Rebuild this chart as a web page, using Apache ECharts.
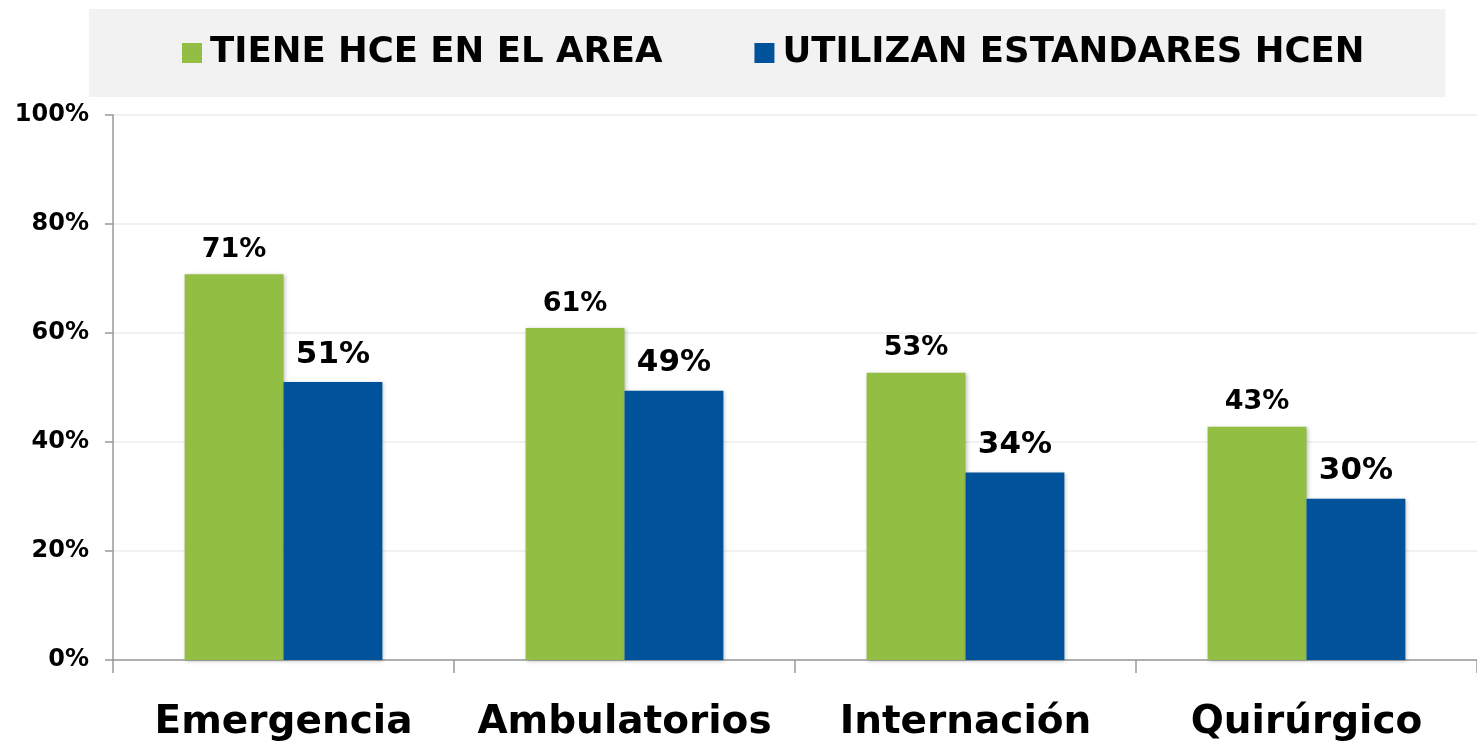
<!DOCTYPE html>
<html>
<head>
<meta charset="utf-8">
<script src="https://cdn.jsdelivr.net/npm/echarts@6/dist/echarts.min.js"></script>
<style>
  html, body { margin: 0; padding: 0; background: #fff; }
  #chart { width: 1477px; height: 742px; }
</style>
</head>
<body>
<div id="chart"></div>
<script>
const categories = ['Emergencia', 'Ambulatorios', 'Internación', 'Quirúrgico'];
const seriesNames = ['TIENE HCE EN EL AREA', 'UTILIZAN ESTANDARES HCEN'];
const tieneHce = [70.8, 60.9, 52.7, 42.8];
const utilizanHcen = [51.0, 49.4, 34.4, 29.6];
const yTicks = [0, 20, 40, 60, 80, 100];

const FONT = 'DejaVu Sans';
const chart = echarts.init(document.getElementById('chart'));

const barLabel = (size, dist) => ({
  show: true,
  position: 'top',
  distance: dist,
  fontFamily: FONT,
  fontSize: size,
  fontWeight: 'bold',
  color: '#000',
  formatter: p => Math.round(p.value) + '%'
});

const option = {
  animation: false,
  textStyle: { fontFamily: FONT },
  legend: {
    left: 89,
    top: 9,
    padding: [26, 81, 26, 93],
    backgroundColor: '#f2f2f2',
    itemWidth: 20,
    itemHeight: 20,
    itemGap: 92,
    icon: 'rect',
    data: seriesNames,
    textStyle: {
      fontFamily: FONT,
      fontSize: 35.5,
      fontWeight: 'bold',
      color: '#000',
      padding: [0, 0, 0, 3]
    }
  },
  grid: {
    left: 113,
    right: 0,
    top: 115,
    bottom: 82,
    containLabel: false
  },
  xAxis: {
    type: 'category',
    data: categories,
    axisLine: { lineStyle: { color: '#999', width: 1.5 } },
    axisTick: { show: true, interval: 0, length: 13, lineStyle: { color: '#999', width: 1.5 } },
    axisLabel: {
      interval: 0,
      margin: 43,
      fontFamily: FONT,
      fontSize: 39,
      fontWeight: 'bold',
      color: '#000'
    }
  },
  yAxis: {
    type: 'value',
    min: 0,
    max: 100,
    interval: 20,
    axisLine: { show: true, lineStyle: { color: '#999', width: 1.5 } },
    axisTick: { show: true, length: 8, lineStyle: { color: '#999', width: 1.5 } },
    splitLine: { lineStyle: { color: '#ececec', width: 1.5 } },
    axisLabel: {
      margin: 24,
      fontFamily: FONT,
      fontSize: 24,
      fontWeight: 'bold',
      color: '#000',
      customValues: yTicks,
      formatter: v => v + '%'
    }
  },
  series: [
    {
      name: seriesNames[0],
      type: 'bar',
      data: tieneHce,
      barGap: '0%',
      barCategoryGap: '42%',
      itemStyle: {
        color: '#92be43',
        shadowColor: 'rgba(0,0,0,0.25)',
        shadowBlur: 4,
        shadowOffsetX: 1,
        shadowOffsetY: 1
      },
      label: barLabel(27, 11)
    },
    {
      name: seriesNames[1],
      type: 'bar',
      data: utilizanHcen,
      barGap: '0%',
      barCategoryGap: '42%',
      itemStyle: {
        color: '#00529b',
        shadowColor: 'rgba(0,0,0,0.25)',
        shadowBlur: 4,
        shadowOffsetX: 1,
        shadowOffsetY: 1
      },
      label: barLabel(31, 12)
    }
  ]
};

chart.setOption(option);
</script>
</body>
</html>
